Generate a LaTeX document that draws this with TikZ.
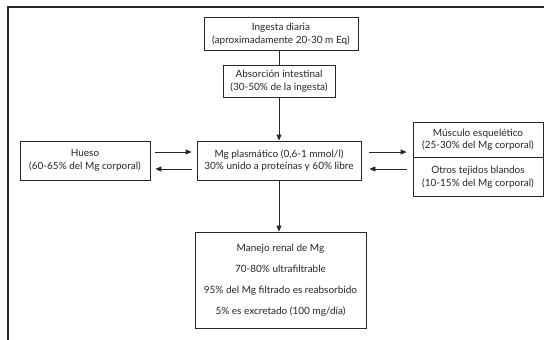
\documentclass[tikz,border=0pt]{standalone}
\usepackage{fontspec}
\setmainfont{Lato}
\usetikzlibrary{arrows.meta,positioning,calc}
\begin{document}
\begin{tikzpicture}[x=1pt,y=-1pt,
  box/.style={draw=black!85,line width=0.8pt,align=center,inner sep=0pt,
    font=\fontsize{10}{12.5}\selectfont,text=black!85},
  arr/.style={draw=black!85,line width=0.8pt,-{Triangle[length=6pt,width=5pt]}},
  ln/.style={draw=black!85,line width=0.8pt}]
\useasboundingbox (0,0) rectangle (544,340);
\fill[white] (0,0) rectangle (544,340);
\coordinate (ftl) at (8,7);
\coordinate (ftr) at (544,7);
\coordinate (fbl) at (8,340);
\draw[black!85,line width=1.2pt] (fbl) -- (ftl) -- (ftr);

\node[box,minimum width=154pt,minimum height=33pt] (ing) at (281,34)
  {Ingesta diaria\\(aproximadamente 20-30 m Eq)};
\node[box,minimum width=112pt,minimum height=32pt] (abs) at (279,81)
  {Absorción intestinal\\(30-50\% de la ingesta)};
\node[box,minimum width=164pt,minimum height=39pt] (mg) at (279,160.5)
  {Mg plasmático (0,6-1 mmol/l)\\30\% unido a proteínas y 60\% libre};
\node[box,minimum width=130pt,minimum height=39pt] (hue) at (85,160.5)
  {Hueso\\(60-65\% del Mg corporal)};
\node[box,minimum width=130pt,minimum height=35pt] (mus) at (478,139.5)
  {Músculo esquelético\\(25-30\% del Mg corporal)};
\node[box,minimum width=130pt,minimum height=39pt,anchor=north] (otr) at (mus.south)
  {Otros tejidos blandos\\(10-15\% del Mg corporal)};
\node[box,minimum width=171pt,minimum height=96pt,
  font=\fontsize{10}{21}\selectfont] (ren) at (280.5,280)
  {Manejo renal de Mg\\70-80\% ultrafiltrable\\95\% del Mg filtrado es reabsorbido\\5\% es excretado (100 mg/día)};

\draw[ln] (ing.south -| abs.north) -- (abs.north);
\draw[arr] (abs.south) -- (mg.north);
\draw[arr] (mg.south) -- (mg.south |- ren.north);
\draw[arr] ([xshift=5pt,yshift=8.5pt]hue.east) -- ([xshift=-5pt,yshift=8.5pt]mg.west);
\draw[arr] ([xshift=-5pt,yshift=-8.5pt]mg.west) -- ([xshift=5pt,yshift=-8.5pt]hue.east);
\draw[arr] ([xshift=8pt,yshift=8.5pt]mg.east) -- ([xshift=-6pt,yshift=8.5pt]mg.east -| mus.west);
\draw[arr] ([xshift=-6pt,yshift=-8.5pt]mg.east -| otr.west) -- ([xshift=8pt,yshift=-8.5pt]mg.east);
\end{tikzpicture}
\end{document}
